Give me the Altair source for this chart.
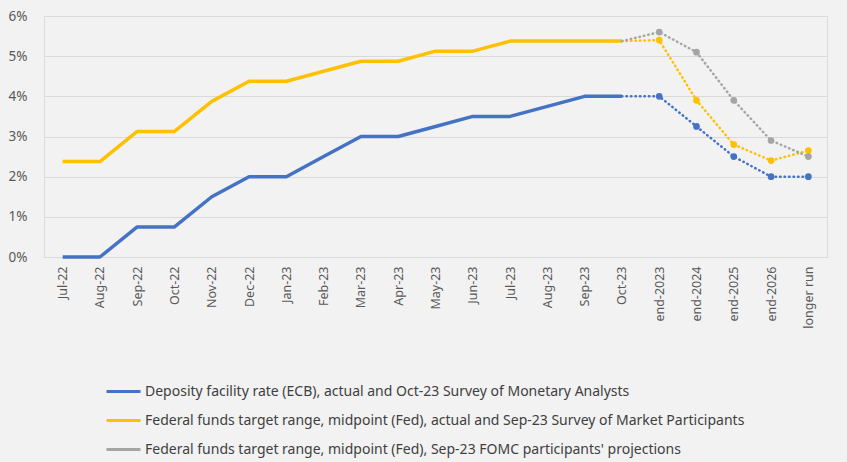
import altair as alt
import pandas as pd

# Categories: monthly actuals, then projection horizons
categories = ["Jul-22", "Aug-22", "Sep-22", "Oct-22", "Nov-22", "Dec-22",
              "Jan-23", "Feb-23", "Mar-23", "Apr-23", "May-23", "Jun-23",
              "Jul-23", "Aug-23", "Sep-23", "Oct-23",
              "end-2023", "end-2024", "end-2025", "end-2026", "longer run"]

# Deposity facility rate (ECB), actual and survey expectations (%)
ecb = [0.0, 0.0, 0.75, 0.75, 1.5, 2.0, 2.0, 2.5, 3.0, 3.0, 3.25, 3.5,
       3.5, 3.75, 4.0, 4.0,
       4.0, 3.25, 2.5, 2.0, 2.0]

# Fed funds target range midpoint, actual and market survey (%)
fed = [2.375, 2.375, 3.125, 3.125, 3.875, 4.375, 4.375, 4.625, 4.875, 4.875,
       5.125, 5.125, 5.375, 5.375, 5.375, 5.375,
       5.4, 3.9, 2.8, 2.4, 2.65]

# FOMC participants' projections (start from the Oct-23 actual)
fomc = [None] * 15 + [5.375, 5.6, 5.1, 3.9, 2.9, 2.5]

series_names = [
    "Deposity facility rate (ECB), actual and Oct-23 Survey of Monetary Analysts",
    "Federal funds target range, midpoint (Fed), actual and Sep-23 Survey of Market Participants",
    "Federal funds target range, midpoint (Fed), Sep-23 FOMC participants' projections",
]
series_colors = ["#4472C4", "#FFC000", "#A5A5A5"]

LAST_ACTUAL = categories.index("Oct-23")

rows = []
for name, values in zip(series_names, [ecb, fed, fomc]):
    for i, (cat, v) in enumerate(zip(categories, values)):
        if v is None:
            continue
        rows.append({"cat": cat, "idx": i, "rate": v / 100.0, "series": name})
df = pd.DataFrame(rows)

x_enc = alt.X("cat:N", sort=categories, scale=alt.Scale(type="point", padding=0.5),
              axis=alt.Axis(title=None, labelAngle=-90, ticks=False, domain=True,
                            domainColor="#d9d9d9", labelPadding=9,
                            labelColor="#595959", labelFontSize=12.5))
y_enc = alt.Y("rate:Q", scale=alt.Scale(domain=[0, 0.06], nice=False),
              axis=alt.Axis(title=None, format=".0%", values=[0, 0.01, 0.02, 0.03, 0.04, 0.05, 0.06],
                            ticks=False, domain=False, grid=True, gridColor="#d9d9d9",
                            labelPadding=17, labelColor="#595959", labelFontSize=13.5))
color_scale = alt.Scale(domain=series_names, range=series_colors)

base = alt.Chart(df).encode(x=x_enc, y=y_enc)

actual = base.transform_filter(alt.datum.idx <= LAST_ACTUAL).mark_line(
    strokeWidth=3.5, strokeJoin="round"
).encode(
    color=alt.Color("series:N", scale=color_scale, sort=series_names,
                    legend=alt.Legend(title=None, orient="none", legendX=61, legendY=357,
                                      direction="vertical", symbolType="stroke",
                                      symbolSize=1156, symbolStrokeWidth=3,
                                      labelFontSize=14, labelColor="#404040",
                                      labelOffset=3, rowPadding=3, padding=0,
                                      labelLimit=800))
)

projected = base.transform_filter(alt.datum.idx >= LAST_ACTUAL).mark_line(
    strokeWidth=2.5, strokeDash=[0.5, 4], strokeCap="round"
).encode(color=alt.Color("series:N", scale=color_scale, legend=None))

points = base.transform_filter(alt.datum.idx > LAST_ACTUAL).mark_circle(
    size=45, opacity=1
).encode(color=alt.Color("series:N", scale=color_scale, legend=None))

chart = alt.layer(actual, projected, points).properties(
    width=783, height=241,
    background="#f2f2f2",
    padding={"left": 44, "top": 16, "right": 20, "bottom": 205},
    autosize=alt.AutoSizeParams(type="none"),
).configure_view(stroke=None).configure(
    font="Noto Sans"
)

chart.save("out.html", embed_options={"renderer": "svg", "actions": False})
